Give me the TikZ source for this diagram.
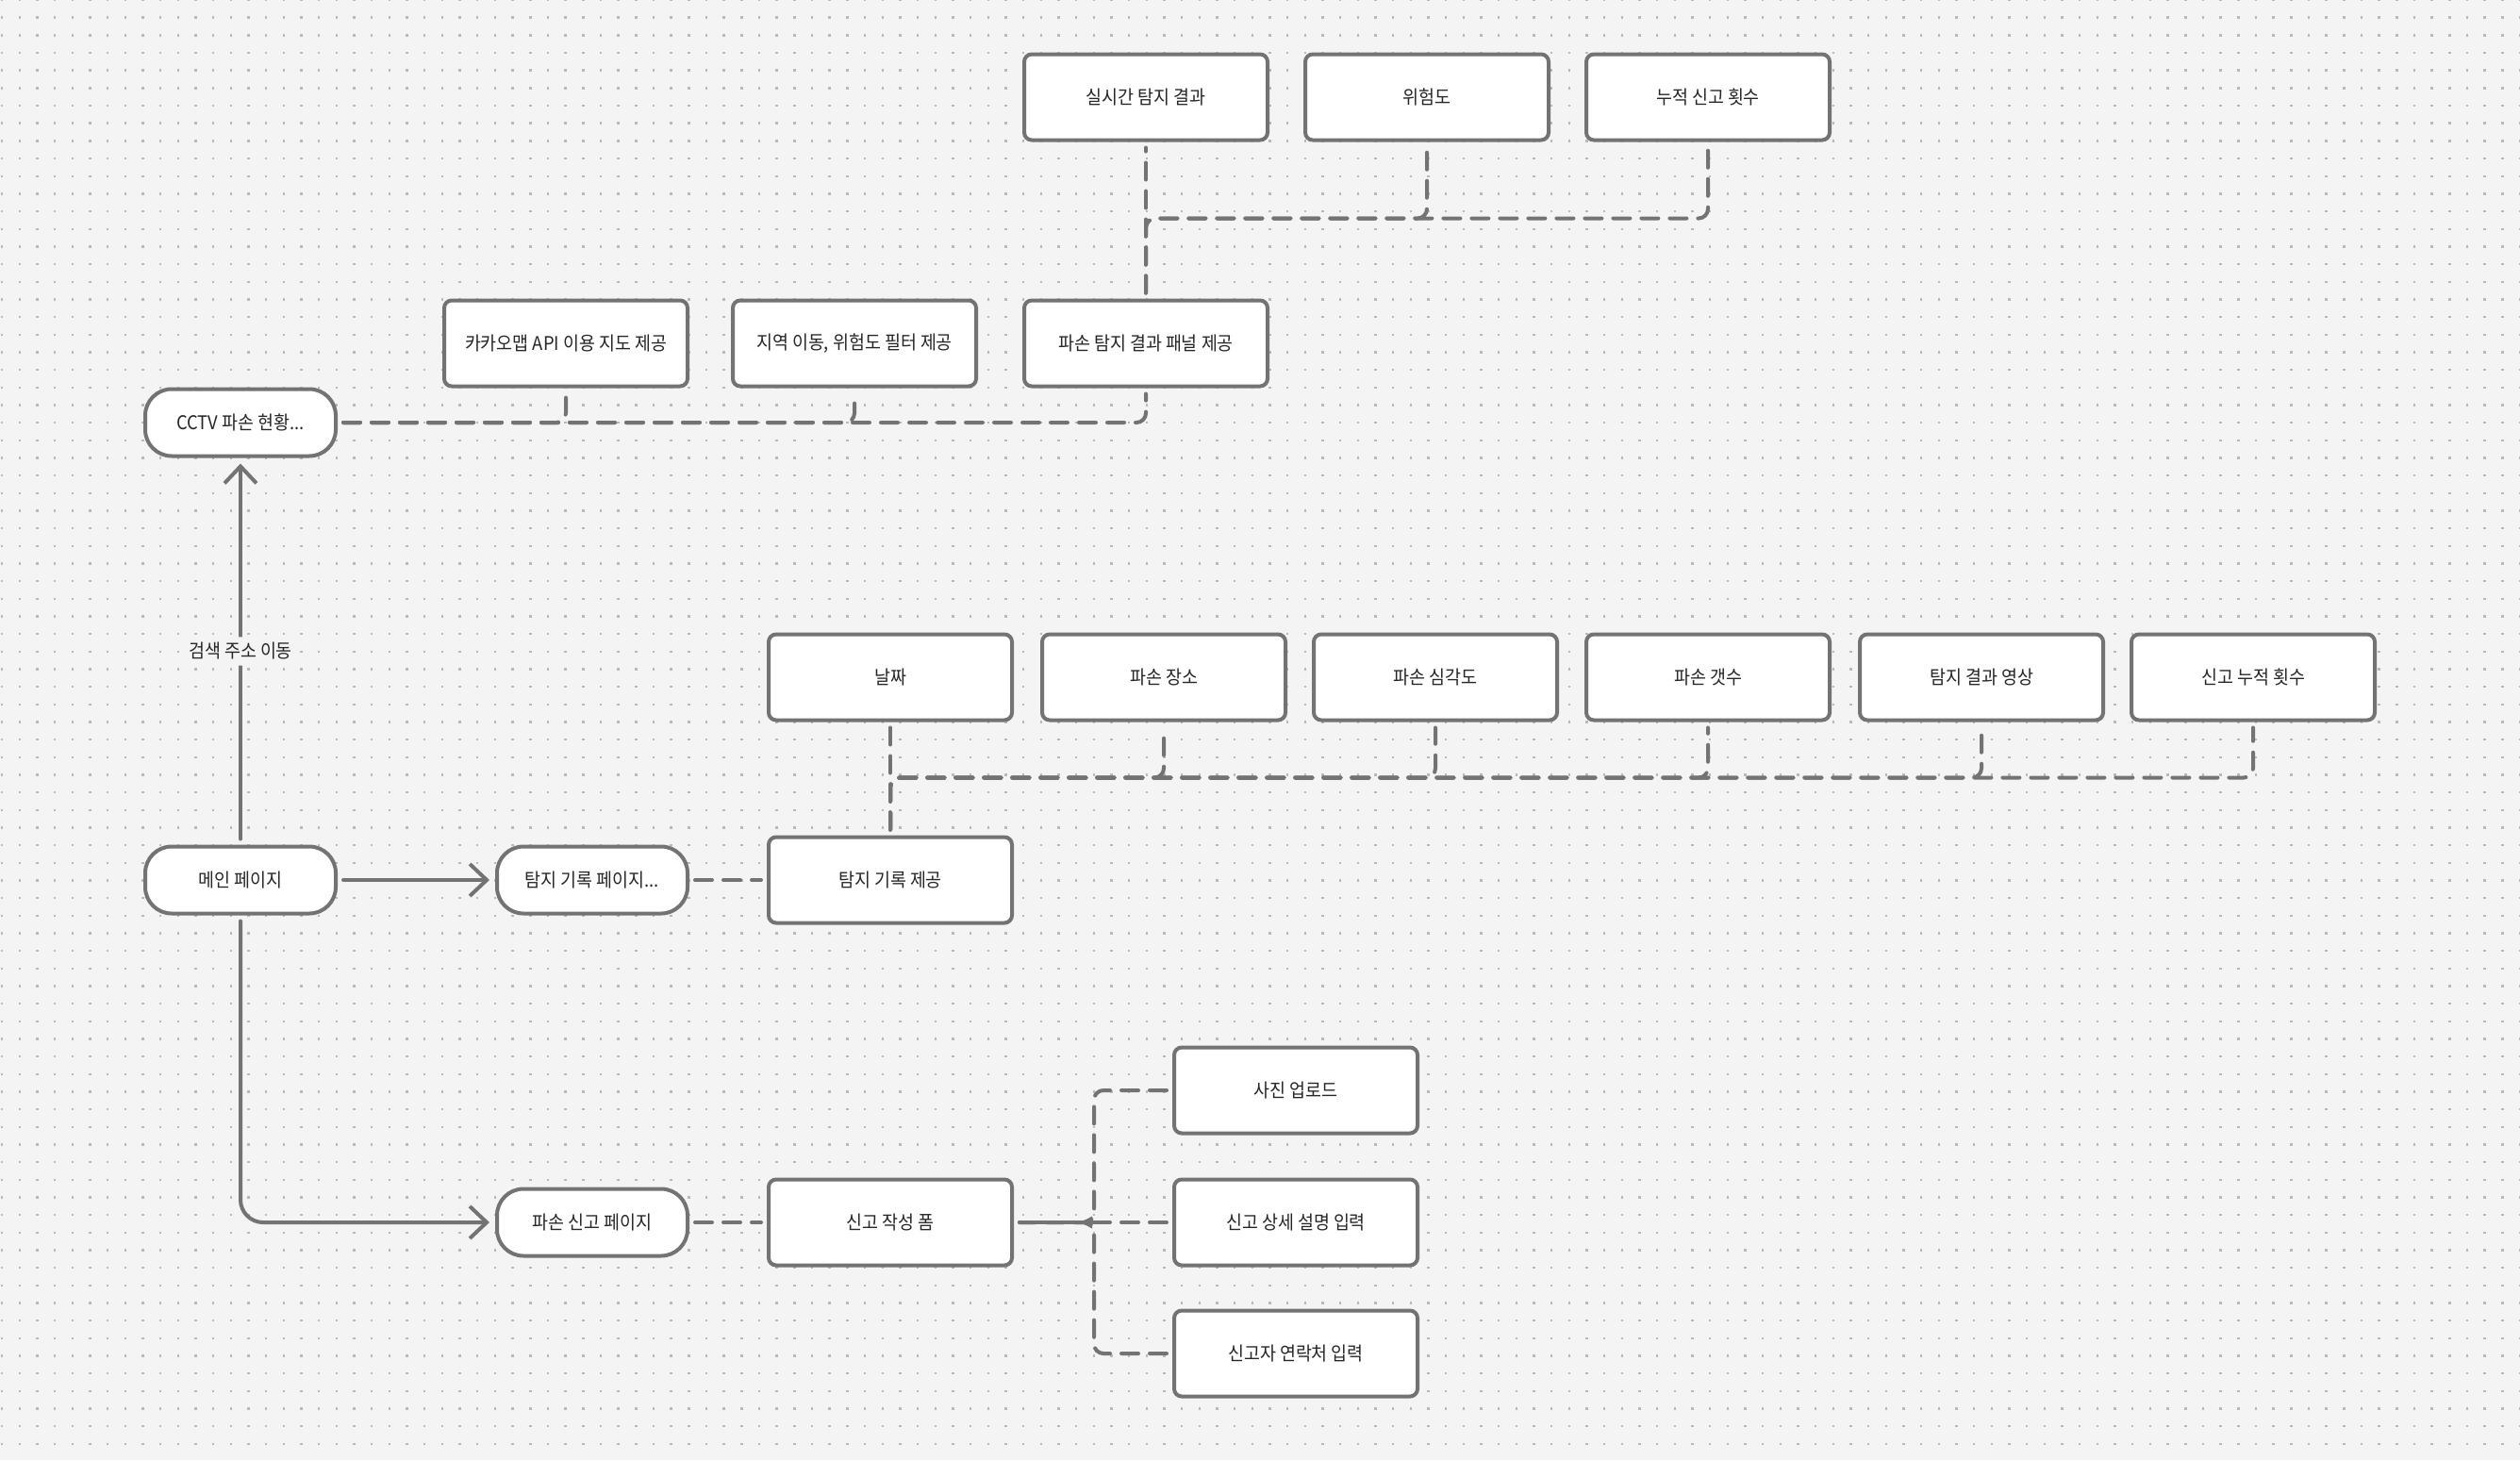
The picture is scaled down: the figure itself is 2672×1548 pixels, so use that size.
\documentclass[tikz,border=0pt]{standalone}
\usepackage{fontspec}
\setmainfont{Noto Sans CJK KR}[FakeStretch=0.92]
\usetikzlibrary{arrows.meta,decorations.markings}
\definecolor{canvas}{RGB}{244,244,244}
\definecolor{griddot}{RGB}{185,185,185}
\definecolor{edge}{RGB}{115,115,115}
\definecolor{ink}{RGB}{38,38,38}

\begin{document}
\begin{tikzpicture}[x=0.5pt,y=-0.5pt,
    box/.style={draw=edge,line width=2pt,fill=white,rounded corners=4pt,minimum width=129pt,minimum height=45.5pt,text=ink,font=\fontsize{10}{12}\selectfont},
    pill/.style={box,rounded corners=14pt,minimum width=101pt,minimum height=35.5pt},
    tag/.style={fill=canvas,text=ink,inner sep=3pt,font=\fontsize{10}{12}\selectfont},
    flow/.style={draw=edge,line width=2pt,line cap=round,rounded corners=12pt,shorten <=3pt,shorten >=3pt,-{Straight Barb[length=9pt,width=17pt]}},
    link/.style={draw=edge,line width=2pt,dash pattern=on 9pt off 6pt,line cap=round,rounded corners=5pt,shorten <=3pt,shorten >=3pt},
    mid arrow/.style={postaction={decorate},decoration={markings,mark=at position 0.6 with {\arrow{Latex[length=8pt,width=7pt]}}}}]
    \useasboundingbox (0,0) rectangle (2672,1548);
    % dotted canvas
    \fill[canvas] (0,0) rectangle (2672,1548);
    \foreach \r in {0,...,82}
        \draw[griddot,line width=1.2pt,dash pattern=on 1.2pt off 8.135pt] (1,\r*18.67) -- (2672,\r*18.67);

    % pages
    \node[pill] (cctv) at (255,448) {CCTV 파손 현황...};
    \node[pill] (main) at (255,933) {메인 페이지};
    \node[pill] (logpage) at (628,933) {탐지 기록 페이지...};
    \node[pill] (reportpage) at (628,1296) {파손 신고 페이지};

    % CCTV page features
    \node[box] (kakao) at (600,364) {카카오맵 API 이용 지도 제공};
    \node[box] (region) at (906,364) {지역 이동, 위험도 필터 제공};
    \node[box] (panel) at (1215,364) {파손 탐지 결과 패널 제공};
    \node[box] (realtime) at (1215,103) {실시간 탐지 결과};
    \node[box] (risk) at (1513,103) {위험도};
    \node[box] (count) at (1811,103) {누적 신고 횟수};

    % detection log
    \node[box] (logview) at (944,933) {탐지 기록 제공};
    \node[box] (date) at (944,718) {날짜};
    \node[box] (place) at (1234,718) {파손 장소};
    \node[box] (level) at (1522,718) {파손 심각도};
    \node[box] (num) at (1811,718) {파손 갯수};
    \node[box] (video) at (2101,718) {탐지 결과 영상};
    \node[box] (total) at (2389,718) {신고 누적 횟수};

    % damage report
    \node[box] (form) at (944,1296) {신고 작성 폼};
    \node[box] (photo) at (1374,1156) {사진 업로드};
    \node[box] (detail) at (1374,1296) {신고 상세 설명 입력};
    \node[box] (contact) at (1374,1435) {신고자 연락처 입력};

    % navigation
    \draw[flow] (main.north) -- node[tag] (searchlbl) {검색 주소 이동} (cctv.south);
    \draw[flow] (main.east) -- (logpage.west);
    \draw[flow] (main.south) |- (reportpage.west);

    % feature links
    \foreach \n in {kakao,region,panel}
        \draw[link] (cctv.east) -| (\n.south);
    \draw[link] (panel.north) -- (realtime.south);
    \foreach \n in {risk,count}
        \draw[link] (panel.north) -- ++(0,-85) -| (\n.south);

    \draw[link] (logpage.east) -- (logview.west);
    \draw[link] (logview.north) -- (date.south);
    \foreach \n in {place,level,num,video,total}
        \draw[link] (logview.north) -- ++(0,-61) -| (\n.south);

    \draw[link] (reportpage.east) -- (form.west);
    \draw[link] (photo.west) -- ++(-83,0) |- (form.east);
    \draw[link,mid arrow] (detail.west) -- (form.east);
    \draw[link] (contact.west) -- ++(-83,0) |- (form.east);
\end{tikzpicture}
\end{document}
